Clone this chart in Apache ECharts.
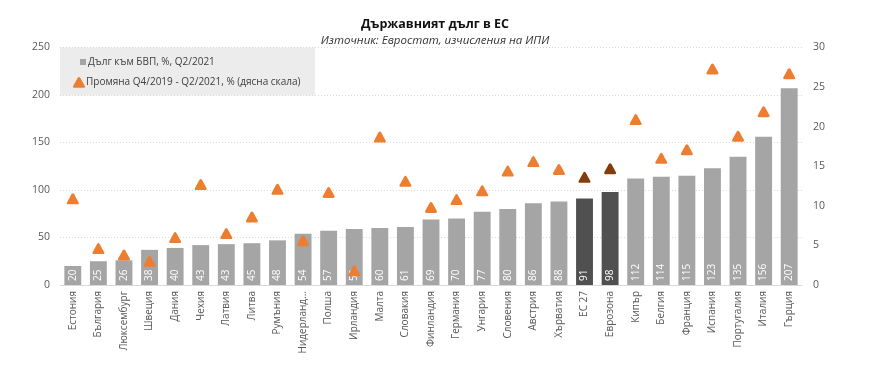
<!DOCTYPE html>
<html><head><meta charset="utf-8">
<script src="https://cdn.jsdelivr.net/npm/echarts@6/dist/echarts.min.js"></script>
<style>html,body{margin:0;padding:0;background:#fff}#c{width:872px;height:381px}</style>
</head><body><div id="c"></div>
<script>
const categories = ["Естония","България","Люксембург","Швеция","Дания","Чехия","Латвия","Литва","Румъния","Нидерландия","Полша","Ирландия","Малта","Словакия","Финландия","Германия","Унгария","Словения","Австрия","Хърватия","ЕС 27","Еврозона","Кипър","Белгия","Франция","Испания","Португалия","Италия","Гърция"];
const debtToGDP = [20,25,26,38,40,43,43,45,48,54,57,59,60,61,69,70,77,80,86,88,91,98,112,114,115,123,135,156,207];
const debtBarHeights = [20,25,26,37,39,42,43,44,47,54,57,59,60,61,69,70,77,80,86,88,91,98,112,114,115,123,135,156,207];
const changeQ4_2019_Q2_2021 = [10.9,4.6,3.8,3.0,6.0,12.7,6.5,8.6,12.1,5.6,11.7,1.8,18.7,13.1,9.8,10.8,11.9,14.4,15.6,14.6,13.6,14.7,20.9,16.0,17.1,27.3,18.8,21.9,26.7];
const aggregates = ["ЕС 27","Еврозона"];

const FONT = '"Open Sans", "Liberation Sans", sans-serif';
const GRAY = '#a5a5a5', DARK = '#505050', ORANGE = '#ed7d31', BROWN = '#843c0c';
const TRI = 'path://M4.6,1.4 Q6,-0.8 7.4,1.4 L11.6,9 Q12.6,11 10.4,11 L1.6,11 Q-0.6,11 0.4,9 Z';
const chart = echarts.init(document.getElementById('c'), null, {renderer:'canvas'});
chart.setOption({
  animation:false,
  textStyle:{fontFamily:FONT},
  title:[
    {text:'Държавният дълг в ЕС', left:430, top:13, textAlign:'center',
     textStyle:{fontSize:12.5, fontWeight:'bold', color:'#111', fontFamily:FONT}},
    {text:'Източник: Евростат, изчисления на ИПИ', left:430, top:30, textAlign:'center',
     textStyle:{fontSize:11.5, fontStyle:'italic', fontWeight:'normal', color:'#333', fontFamily:FONT}}
  ],
  graphic:[{type:'rect', left:60, top:47.5, shape:{width:255, height:48}, style:{fill:'#ececec'}, z:-1}],
  legend:[
    {data:[{name:'Дълг към БВП, %, Q2/2021', icon:'rect', itemStyle:{color:GRAY}}], left:75, top:52, itemWidth:6, itemHeight:6, itemGap:0,
     textStyle:{fontSize:10, color:'#404040', padding:[0,0,0,-3]}},
    {data:[{name:'Промяна Q4/2019 - Q2/2021, % (дясна скала)', icon:TRI, itemStyle:{color:ORANGE}}], left:68, top:72, itemWidth:12, itemHeight:11,
     textStyle:{fontSize:10, color:'#404040', padding:[0,0,0,-4]}}
  ],
  grid:{left:60, right:70, top:47.5, bottom:96},
  xAxis:{type:'category', data:categories,
    axisLine:{lineStyle:{color:'#d9d9d9'}}, axisTick:{show:false},
    axisLabel:{rotate:90, interval:0, fontSize:10, color:'#595959', margin:6,
      formatter:v => v.length > 10 ? v.slice(0,9) + '...' : v}},
  yAxis:[
    {type:'value', min:0, max:250, interval:50, position:'left',
     axisLabel:{fontSize:10.5, color:'#595959', margin:10},
     axisLine:{show:false}, axisTick:{show:false},
     splitLine:{lineStyle:{color:'#d9d9d9', type:[1,2]}}},
    {type:'value', min:0, max:30, interval:5, position:'right',
     axisLabel:{fontSize:10.5, color:'#595959', margin:11},
     axisLine:{show:false}, axisTick:{show:false}, splitLine:{show:false}}
  ],
  series:[
    {name:'Дълг към БВП, %, Q2/2021', type:'bar', data:debtBarHeights, barWidth:'66%',
     itemStyle:{color: p => aggregates.includes(p.name) ? DARK : GRAY},
     label:{show:true, position:'insideBottom', rotate:90, align:'left', verticalAlign:'middle', distance:4,
       color:'#fff', fontSize:10, formatter: p => debtToGDP[p.dataIndex]}},
    {name:'Промяна Q4/2019 - Q2/2021, % (дясна скала)', type:'scatter', yAxisIndex:1,
     data:changeQ4_2019_Q2_2021, symbol:TRI, symbolSize:[12,11],
     itemStyle:{opacity:1, color: p => aggregates.includes(categories[p.dataIndex]) ? BROWN : ORANGE}, z:5}
  ]
});
</script></body></html>
